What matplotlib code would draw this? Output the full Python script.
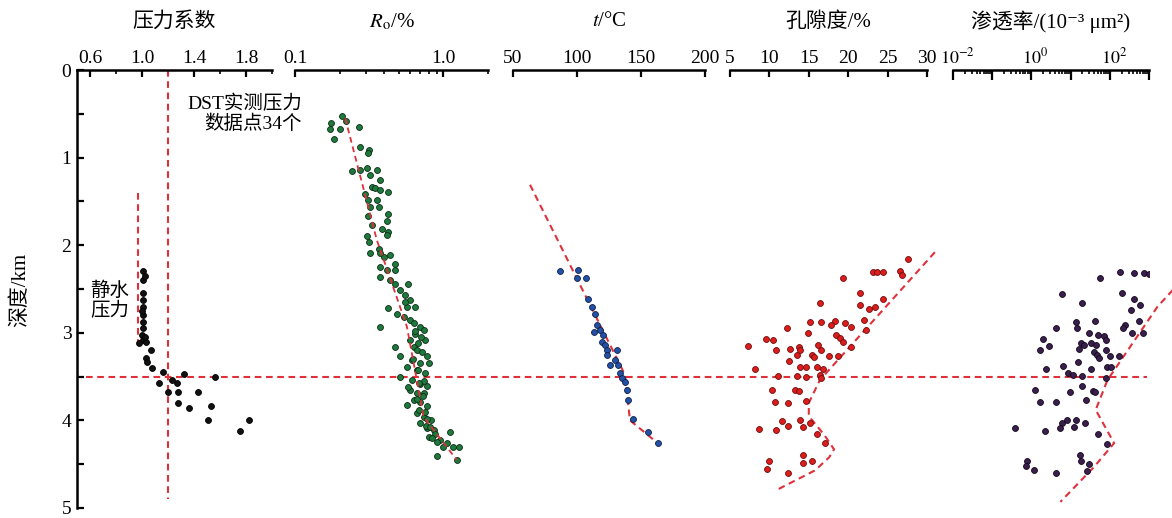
import matplotlib
matplotlib.use('Agg')
import matplotlib.pyplot as plt
import matplotlib.transforms as mtransforms
from matplotlib.ticker import FixedLocator, FixedFormatter, NullFormatter, FuncFormatter
import numpy as np

plt.rcParams['font.family'] = ['Liberation Serif', 'Noto Sans CJK SC', 'DejaVu Sans']
plt.rcParams['mathtext.fontset'] = 'stix'

# 压力系数
pc_coef = [1.01, 1.01, 1.01, 1.01, 1.01, 1.01, 1.01, 1.01, 1.00, 1.01, 0.98, 1.03,
           1.07, 1.03, 1.04, 1.08, 1.16, 1.13, 1.23, 1.27, 1.32, 1.56, 1.20, 1.28,
           1.43, 1.28, 1.36, 1.53, 1.51, 1.75, 1.82, 1.02, 1.00, 1.02]
pc_depth = [2.30, 2.40, 2.55, 2.62, 2.70, 2.80, 2.88, 2.95, 3.02, 3.08, 3.12, 3.10,
            3.20, 3.29, 3.33, 3.40, 3.45, 3.57, 3.54, 3.57, 3.47, 3.50, 3.68, 3.68,
            3.68, 3.80, 3.86, 3.84, 4.00, 4.12, 4.00, 2.35, 2.75, 3.05]
hydro_x = [0.97, 0.97]
hydro_d = [1.40, 3.16]

# 镜质体反射率
ro_val = [0.174, 0.206, 0.22, 0.20, 0.172, 0.183, 0.272, 0.275, 0.316, 0.31,
          0.242, 0.275, 0.308, 0.356, 0.32, 0.375, 0.33, 0.347, 0.375, 0.426,
          0.297, 0.31, 0.356, 0.32, 0.366, 0.426, 0.31, 0.416, 0.33, 0.385,
          0.426, 0.416, 0.305, 0.316, 0.366, 0.375, 0.32, 0.395, 0.438, 0.473,
          0.375, 0.416, 0.473, 0.375, 0.438, 0.473, 0.58, 0.512, 0.55, 0.60,
          0.645, 0.568, 0.426, 0.486, 0.54, 0.60, 0.63, 0.70, 0.736, 0.645,
          0.755, 0.375, 0.60, 0.63, 0.66, 0.473, 0.512, 0.776, 0.795, 0.70,
          0.615, 0.568, 0.66, 0.755, 0.512, 0.615, 0.70, 0.776, 0.60, 0.66,
          0.736, 0.63, 0.568, 0.70, 0.776, 0.66, 0.736, 0.82, 0.70, 0.776,
          0.861, 0.88, 0.795, 0.955, 1.11, 1.0, 0.91, 1.23, 1.17, 1.27,
          1.06, 0.68, 0.72, 0.74, 0.66, 0.69, 0.76, 0.84, 0.90, 0.58,
          0.64, 0.71, 0.67, 0.73, 0.62, 0.78, 0.55, 0.69, 0.81, 0.75]
ro_depth = [0.60, 0.53, 0.58, 0.67, 0.67, 0.79, 0.65, 0.88, 0.91, 0.95,
            1.15, 1.14, 1.12, 1.14, 1.20, 1.26, 1.33, 1.35, 1.37, 1.39,
            1.41, 1.48, 1.48, 1.56, 1.56, 1.64, 1.67, 1.72, 1.77, 1.81,
            1.85, 1.88, 1.90, 1.96, 2.04, 2.09, 2.09, 2.13, 2.11, 2.21,
            2.25, 2.28, 2.28, 2.36, 2.40, 2.44, 2.44, 2.51, 2.57, 2.63,
            2.70, 2.70, 2.72, 2.78, 2.82, 2.85, 2.89, 2.93, 2.97, 3.01,
            3.08, 2.93, 3.08, 3.16, 3.20, 3.16, 3.27, 3.27, 3.35, 3.35,
            3.31, 3.39, 3.42, 3.46, 3.50, 3.54, 3.58, 3.61, 3.65, 3.69,
            3.69, 3.77, 3.82, 3.79, 3.84, 3.92, 3.96, 4.00, 4.03, 4.09,
            4.11, 4.15, 4.19, 4.22, 4.13, 4.30, 4.41, 4.45, 4.30, 4.30,
            4.26, 3.12, 3.22, 3.55, 3.75, 3.88, 4.06, 4.20, 4.25, 3.62,
            2.98, 3.05, 3.43, 3.72, 3.30, 3.98, 2.65, 3.57, 4.08, 3.90]
ro_trend_x = [0.218, 0.356, 0.568, 0.737, 1.23]
ro_trend_d = [0.55, 1.94, 2.93, 3.96, 4.45]

# 温度
t_val = [86.7, 101, 99.7, 107, 108.9, 111.5, 114, 115.4, 113.5, 118, 120.6, 119.3,
         121.9, 123.2, 131, 123.2, 129.7, 125.8, 132.3, 133.6, 134.9, 137.5, 138.8,
         140.1, 144, 155.7, 163.5]
t_depth = [2.30, 2.28, 2.38, 2.37, 2.61, 2.70, 2.78, 2.91, 2.99, 2.97, 3.03, 3.10,
           3.14, 3.20, 3.20, 3.25, 3.31, 3.37, 3.37, 3.46, 3.52, 3.56, 3.65,
           3.77, 3.98, 4.13, 4.26]
t_trend_x = [63.3, 137.5, 141.4, 164.8]
t_trend_d = [1.31, 3.48, 4.00, 4.28]

# 孔隙度
por_val = [27.6, 19.4, 23.1, 23.6, 24.4, 26.6, 26.8, 21.5, 24.4, 16.4, 21.5, 22.6,
           23.4, 22.0, 22.2, 15.1, 16.6, 18.3, 17.8, 19.6, 20.4, 18.5, 19.0, 19.4,
           12.2, 14.9, 9.6, 10.5, 7.3, 10.8, 12.6, 13.7, 13.9, 15.4, 16.2, 16.6,
           17.5, 18.7, 20.4, 12.5, 13.5, 15.6, 13.9, 14.7, 16.0, 16.8, 8.2, 11.1,
           13.5, 14.6, 16.4, 16.6, 10.3, 13.2, 13.7, 10.7, 12.4, 14.6, 8.7, 10.9,
           11.6, 12.4, 13.9, 14.3, 15.1, 16.1, 17.1, 9.9, 9.7, 14.3, 14.3, 15.4, 12.4]
por_depth = [2.16, 2.37, 2.31, 2.31, 2.31, 2.30, 2.34, 2.55, 2.61, 2.66, 2.68, 2.73,
             2.70, 2.85, 2.97, 2.88, 2.88, 2.87, 2.91, 2.89, 2.93, 3.03, 3.06, 3.10,
             2.95, 3.00, 3.07, 3.08, 3.15, 3.20, 3.18, 3.16, 3.20, 3.25, 3.14, 3.20,
             3.27, 3.27, 3.16, 3.32, 3.25, 3.28, 3.39, 3.39, 3.39, 3.41, 3.41, 3.49,
             3.49, 3.51, 3.48, 3.52, 3.65, 3.65, 3.67, 3.79, 3.80, 3.78, 4.10, 4.11,
             4.01, 4.06, 4.00, 4.07, 4.03, 4.16, 4.26, 4.46, 4.56, 4.39, 4.49, 4.46, 4.60]
por_trend_x = [31.0, 16.4, 15.0, 15.0, 17.0, 18.2, 17.6, 15.8, 10.8]
por_trend_d = [2.08, 3.54, 3.80, 3.95, 4.17, 4.33, 4.42, 4.57, 4.80]

# 渗透率 (log10)
perm_log = [3.38, 2.26, 2.62, 2.88, 3.01, 3.12, 3.22, 1.75, 0.77, 1.30, 2.30, 2.62,
            2.78, 2.54, 3.21, 1.62, 2.38, 2.34, 2.75, 1.15, 1.17, 0.62, 1.47, 1.69,
            1.84, 1.90, 2.56, 2.84, 0.29, 0.23, 0.46, 1.26, 1.21, 1.34, 1.51, 1.64,
            1.60, 1.68, 1.73, 1.90, 2.00, 2.24, 1.19, 1.92, 2.03, 0.38, 0.80, 1.51,
            0.93, 1.07, 1.30, 1.91, 0.09, 1.30, 1.56, 1.62, 0.98, 0.23, 0.62, 1.39,
            0.90, 1.13, 0.79, 0.74, 1.09, 1.38, -0.41, 0.34, 1.70, 1.92, 1.24, 1.26,
            1.47, 1.43, -0.11, -0.13, 0.06, 0.62]
perm_depth = [2.16, 2.31, 2.32, 2.32, 2.33, 2.35, 2.32, 2.37, 2.56, 2.66, 2.55, 2.61,
              2.68, 2.74, 2.70, 2.86, 2.91, 2.95, 2.86, 2.88, 2.95, 2.95, 3.00, 3.02,
              3.04, 3.08, 3.00, 3.00, 3.07, 3.20, 3.15, 3.12, 3.19, 3.14, 3.12, 3.14,
              3.22, 3.25, 3.29, 3.20, 3.27, 3.27, 3.33, 3.39, 3.39, 3.41, 3.38, 3.41,
              3.46, 3.48, 3.49, 3.52, 3.65, 3.61, 3.66, 3.68, 3.68, 3.79, 3.79, 3.77,
              3.99, 3.99, 4.03, 4.09, 4.07, 4.03, 4.09, 4.12, 4.16, 4.27, 4.39, 4.46,
              4.50, 4.58, 4.46, 4.52, 4.57, 4.60]
perm_trend_log = [3.61, 3.22, 1.94, 1.64, 2.11, 1.60, 0.74]
perm_trend_d = [2.51, 2.70, 3.54, 3.88, 4.26, 4.53, 4.93]

red = '#e0303a'
dash = (0, (3.2, 2.2))

W, H = 1172, 518
bottom, height = 10 / H, 438 / H
spans = [(77, 195), (295, 193), (513, 192), (730, 197), (953, 196)]

fig = plt.figure(figsize=(W / 100, H / 100), dpi=100)
axes = []
for i, (x0, w) in enumerate(spans):
    ax = fig.add_axes([x0 / W, bottom, w / W, height], sharey=axes[0] if axes else None)
    axes.append(ax)
    ax.patch.set_alpha(0)
    for s in ['bottom', 'right']:
        ax.spines[s].set_visible(False)
    ax.spines['top'].set_linewidth(1.8)
    ax.spines['left'].set_linewidth(1.8)
    if i > 0:
        ax.spines['left'].set_visible(False)
        ax.tick_params(axis='y', left=False, labelleft=False, which='both')
    ax.xaxis.tick_top()
    ax.tick_params(axis='x', which='major', direction='in', length=5, width=1.6,
                   labelsize=14, pad=2)
    ax.tick_params(axis='x', which='minor', direction='in', length=3, width=1.2)

ax1, ax2, ax3, ax4, ax5 = axes

ax1.set_ylim(5, 0)
ax1.set_yticks([0, 1, 2, 3, 4, 5])
ax1.set_yticks([0.5, 1.5, 2.5, 3.5, 4.5], minor=True)
ax1.tick_params(axis='y', which='both', direction='in', length=5, width=1.6,
                labelsize=14, pad=4)

mk = dict(s=18, linewidths=0.6, zorder=3)

# panel 1
ax1.set_xlim(0.5, 2.0)
ax1.set_xticks([0.6, 1.0, 1.4, 1.8])
ax1.set_xticklabels(['0.6', '1.0', '1.4', '1.8'])
ax1.set_xticks([0.8, 1.2, 1.6, 2.0], minor=True)
ax1.scatter(pc_coef, pc_depth, c='#111111', edgecolors='#000000', **mk)
ax1.plot(hydro_x, hydro_d, color=red, ls=dash, lw=1.5, zorder=2)
ax1.plot([1.2, 1.2], [0, 4.9], color=red, ls=dash, lw=1.5, zorder=2)
ax1.text(2.23, 0.5, 'DST实测压力\n数据点34个', ha='right', va='center',
         multialignment='right', fontsize=14, clip_on=False, linespacing=1.15)
ax1.text(0.75, 2.63, '静水\n压力', ha='center', va='center', fontsize=14,
         linespacing=1.15)

# panel 2
ax2.set_xscale('log')
ax2.set_xlim(0.1, 2.0)
ax2.xaxis.set_major_locator(FixedLocator([0.1, 1.0]))
ax2.xaxis.set_major_formatter(FixedFormatter(['0.1', '1.0']))
ax2.xaxis.set_minor_locator(FixedLocator([0.2, 0.3, 0.4, 0.5, 0.6, 0.7, 0.8, 0.9, 2.0]))
ax2.xaxis.set_minor_formatter(NullFormatter())
ax2.scatter(ro_val, ro_depth, c='#1e7a3c', edgecolors='#0b2a14', **mk)
ax2.plot(ro_trend_x, ro_trend_d, color=red, ls=dash, lw=1.3, zorder=4)

# panel 3
ax3.set_xlim(50, 200)
ax3.set_xticks([50, 100, 150, 200])
ax3.scatter(t_val, t_depth, c='#2451a8', edgecolors='#0d1f44', **mk)
ax3.plot(t_trend_x, t_trend_d, color=red, ls=dash, lw=1.5, zorder=2)

# panel 4
ax4.set_xlim(5, 30)
ax4.set_xticks([5, 10, 15, 20, 25, 30])
ax4.scatter(por_val, por_depth, c='#dd1c1c', edgecolors='#6a0d0d', **mk)
ax4.plot(por_trend_x, por_trend_d, color=red, ls=dash, lw=1.5, zorder=2, clip_on=False)

# panel 5
ax5.set_xscale('log')
ax5.set_xlim(1e-2, 1e3)
ax5.xaxis.set_major_locator(FixedLocator([1e-2, 1e-1, 1e0, 1e1, 1e2, 1e3]))
ax5.xaxis.set_major_formatter(FuncFormatter(
    lambda v, p: r'$10^{%d}$' % round(np.log10(v)) if round(np.log10(v)) in (-2, 0, 2) else ''))
ax5.xaxis.set_minor_locator(FixedLocator(
    [m * 10.0 ** e for e in range(-2, 3) for m in range(2, 10)]))
ax5.xaxis.set_minor_formatter(NullFormatter())
ax5.tick_params(axis='x', which='major', length=7, labelsize=13)
ax5.scatter(10 ** np.array(perm_log), perm_depth, c='#3a1f4e', edgecolors='#120818', **mk)
ax5.plot(10 ** np.array(perm_trend_log), perm_trend_d, color=red, ls=dash, lw=1.5,
         zorder=2, clip_on=False)
# nudge the 10^-2 label right so it clears the porosity "30"
for lab in ax5.get_xticklabels():
    lab.set_transform(lab.get_transform() + mtransforms.ScaledTranslation(4 / 100, 0, fig.dpi_scale_trans))

# 3.5 km horizontal line across all panels
tr = mtransforms.blended_transform_factory(fig.transFigure, ax1.transData)
ax1.plot([86 / W, 1147 / W], [3.5, 3.5], color=red, ls=dash, lw=1.5,
         transform=tr, clip_on=False, zorder=2)

titles = ['压力系数', r'$R_{\mathrm{o}}$/%', r'$t$/°C', '孔隙度/%', '渗透率/(10⁻³ μm²)']
for ax, t in zip(axes, titles):
    ax.text(0.5, 1.11, t, transform=ax.transAxes, ha='center', va='center', fontsize=15)

fig.text(20 / W, 1 - 290 / H, '深度/km', rotation=90, ha='center', va='center', fontsize=15)

fig.savefig('out.png', dpi=100)
